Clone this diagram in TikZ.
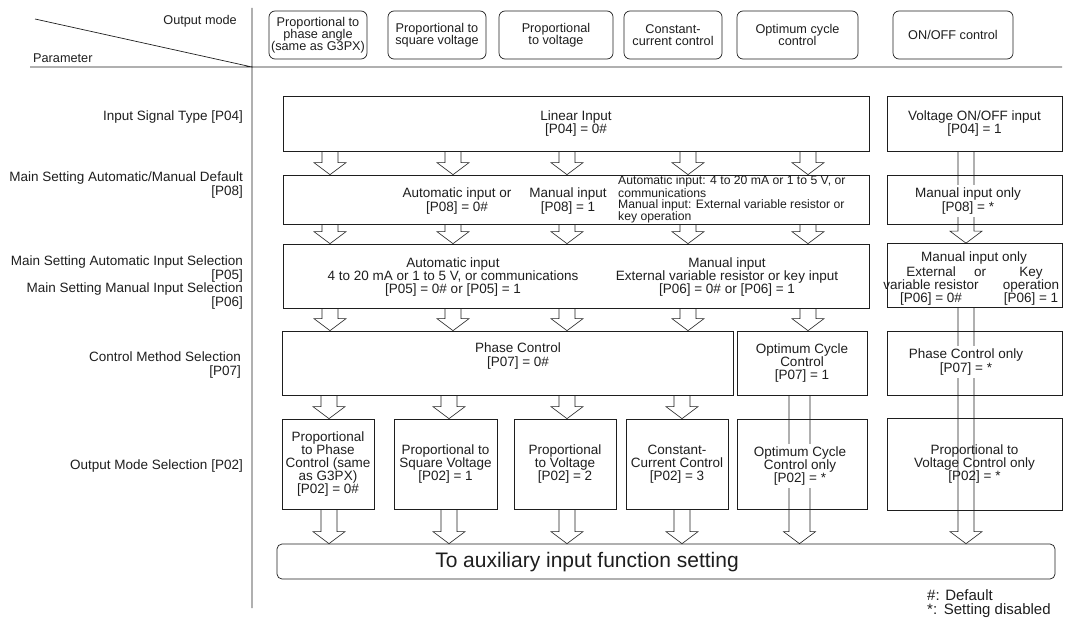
\documentclass[tikz,border=0pt]{standalone}
\usepackage{fontspec}
\setmainfont{Liberation Sans}
\usetikzlibrary{calc}
\definecolor{ink}{HTML}{1E1E1E}

% hollow block arrow: [shaft half width]{top}{tip}
\newcommand\blockdown[3][8]{%
  \draw[blockline] ($(#2)+(-#1,0)$) -- ($(#3)+(-#1,-12)$) -- ($(#3)+(-16,-12)$)
    -- (#3) -- ($(#3)+(16,-12)$) -- ($(#3)+(#1,-12)$) -- ($(#2)+(#1,0)$);}

\begin{document}
\begin{tikzpicture}[x=1pt,y=-1pt,
  every node/.style={text=ink,align=center,font=\fontsize{13.5}{13.2}\selectfont},
  dims/.style 2 args={minimum width=#1pt,minimum height=#2pt},
  box/.style={draw=ink,line width=.7pt,inner sep=2pt},
  hbox/.style={box,rounded corners=6pt,font=\fontsize{12.7}{12}\selectfont},
  lab/.style={anchor=east,align=right,inner sep=0pt},
  fine/.style={font=\fontsize{12.2}{11.2}\selectfont},
  blockline/.style={draw=ink,line width=.6pt},
  cover/.style={fill=white,inner sep=3pt}]

 \useasboundingbox (0,0) rectangle (1065,618);

 % table head
 \draw[ink,line width=.7pt] (30,67) -- (1062,67) (252,8) -- (252,608) (35,19) -- (252,67);
 \node[lab,font=\fontsize{12.7}{12}\selectfont] (omode) at (237,21) {Output mode};
 \node[lab,anchor=west,font=\fontsize{12.7}{12}\selectfont] (param) at (33,58) {Parameter};

 \node[hbox,dims={98}{48}] (hb1) at (318,35) {Proportional to\\phase angle\\(same as G3PX)};
 \node[hbox,dims={98}{48}] (hb2) at (437,35) {Proportional to\\square voltage};
 \node[hbox,dims={114}{48}] (hb3) at (556,35) {Proportional\\to voltage};
 \node[hbox,dims={98}{48}] (hb4) at (673,35) {Constant-\\current control};
 \node[hbox,dims={121}{48}] (hb5) at (797.5,35) {Optimum cycle\\control};
 \node[hbox,dims={120}{48}] (hb6) at (953,35) {ON/OFF control};

 % parameters
 \node[lab] (l1) at (243,117) {Input Signal Type [P04]};
 \node[lab] (l2) at (243,185) {Main Setting Automatic/Manual Default\\{}[P08]};
 \node[lab,font=\fontsize{13.5}{11.7}\selectfont] (l3) at (243,282.5)
   {Main Setting Automatic Input Selection\\{}[P05]\\Main Setting Manual Input Selection\\{}[P06]};
 \node[lab] (l5) at (241,365) {Control Method Selection\\{}[P07]};
 \node[lab] (l6) at (243,466) {Output Mode Selection [P02]};

 % row 1
 \node[box,dims={586}{55}] (lin) at (576,123.5) {Linear Input\\{}[P04] = 0\#};
 \node[box,dims={175}{55}] (von) at (974.5,123.5) {Voltage ON/OFF input\\{}[P04] = 1};

 % row 2
 \node[box,dims={586}{49}] (m2) at (576,199.5) {};
 \node (m2a) at (457,201) {Automatic input or\\{}[P08] = 0\#};
 \node (m2b) at (568,201) {Manual input\\{}[P08] = 1};
 \node[fine,anchor=west,align=left,inner sep=0pt] (m2c) at (618,199.5)
   {Automatic input: 4 to 20 mA or 1 to 5 V, or\\communications\\Manual input: External variable resistor or\\key operation};
 \node[box,dims={175}{49}] (m2r) at (974.5,199.5) {};

 % row 3
 \node[box,dims={586}{64}] (m3) at (576,276) {};
 \node (m3a) at (453,277) {Automatic input\\4 to 20 mA or 1 to 5 V, or communications\\{}[P05] = 0\# or [P05] = 1};
 \node (m3b) at (727,277) {Manual input\\External variable resistor or key input\\{}[P06] = 0\# or [P06] = 1};
 \node[box,dims={175}{64}] (m3r) at (974.5,275.5) {};
 \node (m3r1) at (974,258) {Manual input only};
 \node (m3r2) at (931,286) {External\\variable resistor\\{}[P06] = 0\#};
 \node (m3r3) at (980,273) {or};
 \node (m3r4) at (1031,286) {Key\\operation\\{}[P06] = 1};

 % row 4
 \node[box,dims={451}{64}] (ph) at (507.5,363) {};
 \node (pht) at (518,356) {Phase Control\\{}[P07] = 0\#};
 \node[box,dims={130}{64}] (oc) at (802,363) {Optimum Cycle\\Control\\{}[P07] = 1};
 \node[box,dims={175}{64}] (phr) at (974.5,363) {};

 % row 5
 \node[box,dims={92}{90}] (pa) at (328,464) {Proportional\\to Phase\\Control (same\\as G3PX)\\{}[P02] = 0\#};
 \node[box,dims={103}{90}] (pb) at (445.5,464) {Proportional to\\Square Voltage\\{}[P02] = 1};
 \node[box,dims={102}{90}] (pc) at (565,464) {Proportional\\to Voltage\\{}[P02] = 2};
 \node[box,dims={102}{90}] (pd) at (677,464) {Constant-\\Current Control\\{}[P02] = 3};
 \node[box,dims={130}{90}] (pe) at (802,464) {};
 \node[box,dims={175}{92}] (pf) at (974.5,464) {Proportional to\\Voltage Control only\\{}[P02] = *};

 \node[box,rounded corners=5pt,dims={778}{35}] (bar) at (666,561.5) {};
 \node[font=\fontsize{21}{21}\selectfont] (bart) at (587,562) {To auxiliary input function setting};

 % arrows
 \foreach \x in {330,453,567,688,808} {
   \blockdown{\x,0 |- lin.south}{\x,0 |- m2.north}
   \blockdown{\x,0 |- m2.south}{\x,0 |- m3.north}
 }
 \foreach \x/\t in {330/ph,453/ph,567/ph,688/ph,808/oc}
   \blockdown{\x,0 |- m3.south}{\x,0 |- \t.north};
 \foreach \x/\t in {329/pa,449/pb,567/pc,682/pd} {
   \blockdown{\x,0 |- ph.south}{\x,0 |- \t.north}
   \blockdown{\x,0 |- \t.south}{\x,0 |- bar.north}
 }
 \blockdown{966,0 |- von.south}{966,0 |- m3r.north}
 \blockdown{966,0 |- m3r.south}{966,0 |- bar.north}
 \blockdown[10.5]{799.5,0 |- oc.south}{799.5,0 |- bar.north}

 \node[cover] (m2rt) at (968,201) {Manual input only\\{}[P08] = *};
 \node[cover] (phrt) at (966,362) {Phase Control only\\{}[P07] = *};
 \node[cover] (pet) at (800,466) {Optimum Cycle\\Control only\\{}[P02] = *};

 \node[anchor=west,align=left,inner sep=0pt,font=\fontsize{15}{14}\selectfont] (note) at (927,603.5)
   {\#: Default\\\rlap{*:}\hphantom{\#:} Setting disabled};
\end{tikzpicture}
\end{document}
